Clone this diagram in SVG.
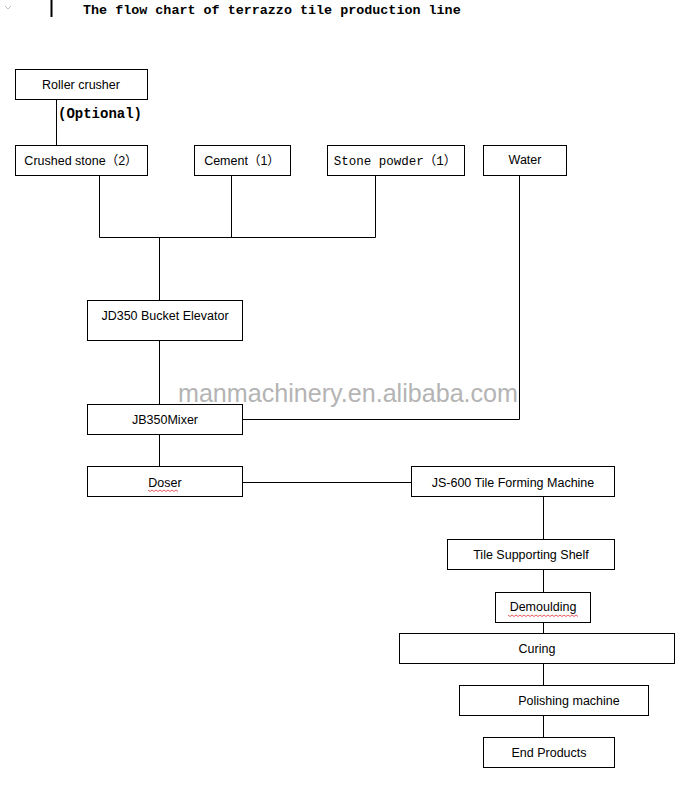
<svg xmlns="http://www.w3.org/2000/svg" width="696" height="788" viewBox="0 0 696 788">
<style>
.box{fill:#fff;stroke:#000;stroke-width:1}
.ln{stroke:#000;stroke-width:1;fill:none}
.t{font-family:"Liberation Sans",Arial,"Noto Sans CJK SC",sans-serif;font-size:12.5px;fill:#000;text-anchor:middle}
.m{font-family:"Liberation Mono","Noto Sans CJK SC",monospace;font-size:12.5px;fill:#000;text-anchor:middle}
.wave{stroke:#d33;stroke-width:0.8;fill:none}
</style>
<rect width="696" height="788" fill="#fff"/>
<path d="M5 6 L8 9 L11 6" stroke="#bbb" stroke-width="1" fill="none"/>
<line x1="51.5" y1="0" x2="51.5" y2="17" stroke="#000" stroke-width="2"/>
<text x="83" y="14" font-family="Liberation Mono,monospace" font-weight="bold" font-size="13.4" fill="#000">The flow chart of terrazzo tile production line</text>
<g id="connectors">
<path class="ln" d="M56.5 100 V145"/>
<path class="ln" d="M99.5 176 V237.5 H375.5 V176"/>
<path class="ln" d="M231.5 176 V237.5"/>
<path class="ln" d="M159.5 237.5 V300"/>
<path class="ln" d="M159.5 341 V404"/>
<path class="ln" d="M519.5 176 V419.5 H243"/>
<path class="ln" d="M159.5 435 V466"/>
<path class="ln" d="M243 482.5 H411"/>
<path class="ln" d="M543.5 497 V539"/>
<path class="ln" d="M543.5 570 V592"/>
<path class="ln" d="M543.5 622 V633"/>
<path class="ln" d="M543.5 664 V685"/>
<path class="ln" d="M543.5 716 V737"/>
</g>
<g id="roller"><rect class="box" x="15.5" y="69.5" width="132" height="30"/><text class="t" x="81" y="89">Roller crusher</text></g>
<text x="58" y="118" font-family="Liberation Mono,'Noto Sans CJK SC',monospace" font-weight="bold" font-size="14" fill="#000">(Optional)</text>
<g id="crushed"><rect class="box" x="15.5" y="145.5" width="132" height="30"/><text class="t" x="81" y="165">Crushed stone（2）</text></g>
<g id="cement"><rect class="box" x="194.5" y="145.5" width="96" height="30"/><text class="t" x="242" y="165">Cement（1）</text></g>
<g id="powder"><rect class="box" x="327.5" y="145.5" width="137" height="30"/><text class="m" x="395" y="165" font-size="11.8">Stone powder（1）</text></g>
<g id="water"><rect class="box" x="483.5" y="145.5" width="83" height="30"/><text class="t" x="525" y="164">Water</text></g>
<g id="elevator"><rect class="box" x="87.5" y="300.5" width="155" height="40"/><text class="t" x="165" y="320">JD350 Bucket Elevator</text></g>
<text x="178" y="402" font-family="Liberation Sans,Arial,sans-serif" font-size="25.2" fill="#b4b4b4" textLength="340" lengthAdjust="spacingAndGlyphs">manmachinery.en.alibaba.com</text>
<g id="mixer"><rect class="box" x="87.5" y="404.5" width="155" height="30"/><text class="t" x="165" y="424">JB350Mixer</text></g>
<g id="doser"><rect class="box" x="87.5" y="466.5" width="155" height="30"/><text class="t" x="165" y="487">Doser</text><path class="wave" d="M148 490 l2 1.5 l2 -1.5 l2 1.5 l2 -1.5 l2 1.5 l2 -1.5 l2 1.5 l2 -1.5 l2 1.5 l2 -1.5 l2 1.5 l2 -1.5 l2 1.5 l2 -1.5 l2 1.5"/></g>
<g id="forming"><rect class="box" x="411.5" y="466.5" width="203" height="30"/><text class="t" x="513" y="487">JS-600 Tile Forming Machine</text></g>
<g id="shelf"><rect class="box" x="447.5" y="539.5" width="167" height="30"/><text class="t" x="531" y="559">Tile Supporting Shelf</text></g>
<g id="demould"><rect class="box" x="495.5" y="592.5" width="95" height="30"/><text class="t" x="543" y="611">Demoulding</text><path class="wave" d="M508 615 l2 1.5 l2 -1.5 l2 1.5 l2 -1.5 l2 1.5 l2 -1.5 l2 1.5 l2 -1.5 l2 1.5 l2 -1.5 l2 1.5 l2 -1.5 l2 1.5 l2 -1.5 l2 1.5 l2 -1.5 l2 1.5 l2 -1.5 l2 1.5 l2 -1.5 l2 1.5 l2 -1.5 l2 1.5 l2 -1.5 l2 1.5 l2 -1.5 l2 1.5 l2 -1.5 l2 1.5 l2 -1.5 l2 1.5 l2 -1.5 l2 1.5 l2 -1.5 l2 1.5"/></g>
<g id="curing"><rect class="box" x="399.5" y="633.5" width="275" height="30"/><text class="t" x="537" y="653">Curing</text></g>
<g id="polish"><rect class="box" x="459.5" y="685.5" width="189" height="30"/><text class="t" x="569" y="705">Polishing machine</text></g>
<g id="end"><rect class="box" x="483.5" y="737.5" width="131" height="30"/><text class="t" x="549" y="757">End Products</text></g>
</svg>
